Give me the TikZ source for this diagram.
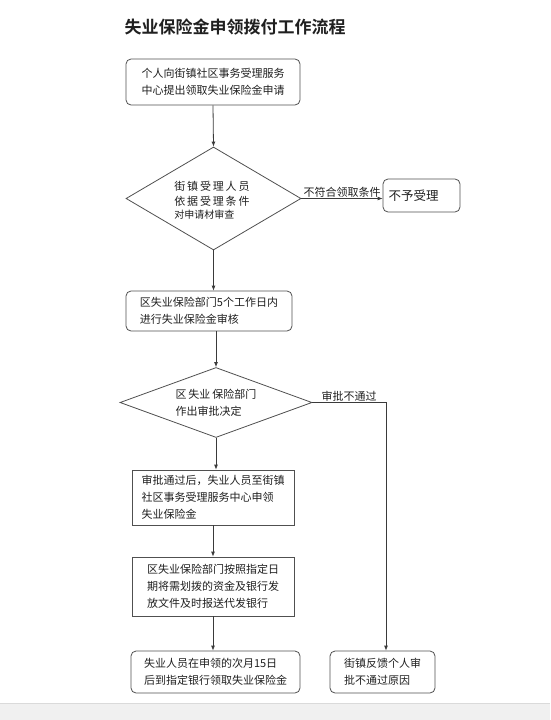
\documentclass[tikz,border=0pt]{standalone}
\usepackage{fontspec}
\setmainfont{Noto Sans CJK SC}[BoldFont={Noto Sans CJK SC Bold}]
\usepackage{tikz}
\usetikzlibrary{arrows.meta,shapes.geometric}
\definecolor{FLLine}{HTML}{505050}
\definecolor{FLArrow}{HTML}{3A3A3A}
\definecolor{FLText}{HTML}{202020}
\definecolor{FLBar}{HTML}{F0F0F0}
\definecolor{FLBarLine}{HTML}{DADADA}

\begin{document}
\begin{tikzpicture}[x=1pt,y=-1pt,
  roundbox/.style={draw=FLLine,line width=.8pt,rounded corners=5pt,inner sep=0pt,
    align=left,font=\fontsize{11}{17}\selectfont,text=FLText},
  squarebox/.style={draw=FLLine,line width=.8pt,inner sep=0pt,
    align=left,font=\fontsize{11}{17}\selectfont,text=FLText},
  decision/.style={draw=FLLine,line width=.8pt,diamond,inner sep=0pt},
  decisiontext/.style={align=left,font=\fontsize{11}{17}\selectfont,text=FLText,inner sep=0pt},
  flow/.style={draw=FLArrow,line width=.8pt,-{Latex[length=5pt,width=4pt]}},
  flowlabel/.style={font=\fontsize{11}{13}\selectfont,text=FLText,inner sep=1pt}]
\path[use as bounding box] (0,0) rectangle (550,720);
\fill[white] (0,0) rectangle (550,720);
\fill[FLBar] (0,703) rectangle (550,720);
\draw[FLBarLine,line width=.5pt] (0,703) -- (550,703);

% title
\node[font=\bfseries\fontsize{17}{20}\selectfont,text=FLText] (title) at (235,27) {失业保险金申领拨付工作流程};

% main column
\node[roundbox,minimum width=174,minimum height=46] (apply) at (213,82)
  {个人向街镇社区事务受理服务\\中心提出领取失业保险金申请};
\node[decision,minimum width=175,minimum height=103] (check) at (213.5,198.5) {};
\node[decisiontext] (checktext) at (212,200)
  {街\,镇\,受\,理\,人\,员\\[-2pt]依\,据\,受\,理\,条\,件\\[-4pt]{\fontsize{10}{12}\selectfont 对申请材审查}};
\node[roundbox,minimum width=77,minimum height=33,text width=66,
  font=\fontsize{12.5}{15}\selectfont] (reject) at (421.5,195.5) {不予受理};
\node[roundbox,minimum width=166,minimum height=40] (review) at (209,311)
  {区失业保险部门5个工作日内\\进行失业保险金审核};
\node[decision,minimum width=192,minimum height=70] (decide) at (216,402.5) {};
\node[decisiontext] (decidetext) at (216,403)
  {区\,失业\,保险部门\\作出审批决定};
\node[squarebox,minimum width=162,minimum height=55] (pass) at (213,497.5)
  {审批通过后，失业人员至街镇\\社区事务受理服务中心申领\\失业保险金};
\node[squarebox,minimum width=162,minimum height=59] (transfer) at (213,586.5)
  {区失业保险部门按照指定日\\期将需划拨的资金及银行发\\放文件及时报送代发银行};
\node[roundbox,minimum width=169,minimum height=42] (collect) at (215.5,672)
  {失业人员在申领的次月15日\\后到指定银行领取失业保险金};
\node[roundbox,minimum width=105,minimum height=42] (feedback) at (382.5,672)
  {街镇反馈个人审\\批不通过原因};
\coordinate (turn) at (386,402.5);

% connectors
\draw[flow] (apply.south) -- (check.north);
\draw[flow] (check.east) -- node[flowlabel,above] (nolabel) {不符合领取条件} (reject.west |- check.east);
\draw[flow] (check.south) -- (review.north -| check.south);
\draw[flow] (review.south -| decide.north) -- (decide.north);
\draw[flow] (decide.south) -- (pass.north -| decide.south);
\draw[flow] (pass.south) -- (transfer.north);
\draw[flow] (transfer.south) -- (collect.north -| transfer.south);
\draw[flow] (decide.east) -- node[flowlabel,above] (faillabel) {审批不通过} (turn) -- (turn |- feedback.north);
\end{tikzpicture}
\end{document}
